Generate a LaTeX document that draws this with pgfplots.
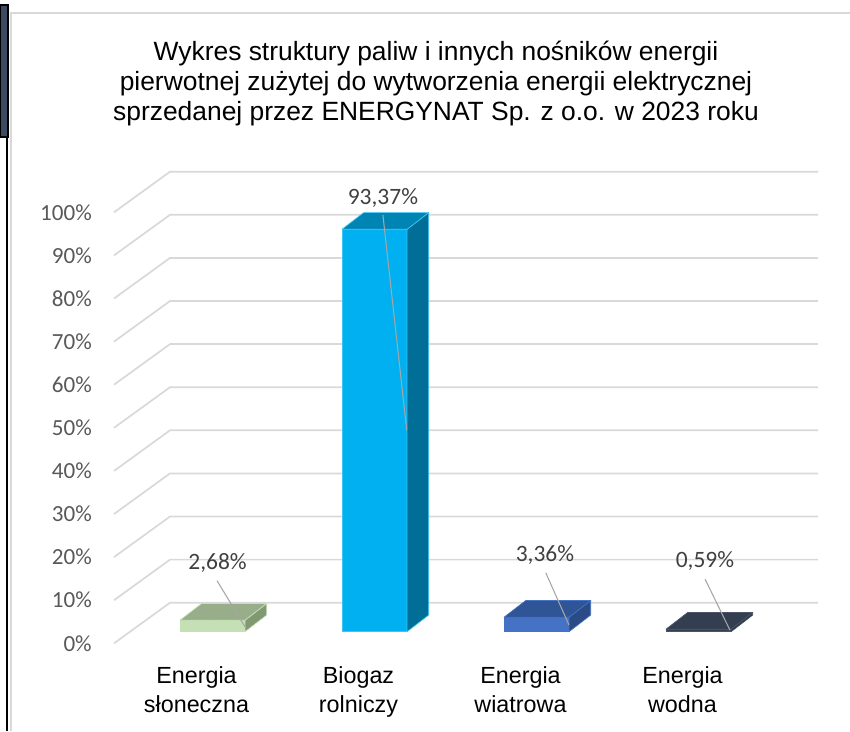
\documentclass[border=0pt]{standalone}
\usepackage{fontspec}
\setmainfont{Liberation Sans}
\newfontfamily\carlito{Carlito}
\usepackage{pgfplots}
\usepackage{pgfplotstable}
\pgfplotsset{compat=1.18}

\definecolor{f0}{HTML}{C5E0B4}\definecolor{t0}{HTML}{98AE8A}\definecolor{s0}{HTML}{819972}\definecolor{e0}{HTML}{C5E0B4}
\definecolor{f1}{HTML}{00B0F0}\definecolor{t1}{HTML}{0084B4}\definecolor{s1}{HTML}{006E96}\definecolor{e1}{HTML}{3CC6F7}
\definecolor{f2}{HTML}{4472C4}\definecolor{t2}{HTML}{2F5597}\definecolor{s2}{HTML}{2A4B85}\definecolor{e2}{HTML}{4472C4}
\definecolor{f3}{HTML}{333F50}\definecolor{t3}{HTML}{333F50}\definecolor{s3}{HTML}{2B3545}\definecolor{e3}{HTML}{4A5568}
\definecolor{gridc}{HTML}{D9D9D9}
\definecolor{tickgray}{HTML}{595959}
\definecolor{labgray}{HTML}{404040}
\definecolor{leadc}{HTML}{A6A6A6}
\definecolor{navy}{HTML}{3E4C63}

\tikzset{dlab/.style={font=\carlito\fontsize{17.6}{20}\selectfont, text=labgray, inner sep=0pt, anchor=center}}

\pgfplotstableread{
x v c
0 2.68 0
1 93.37 1
2 3.36 2
3 0.59 3
}\bardata

\begin{document}
\begin{tikzpicture}
\begin{axis}[
  set layers=standard,
  x=121.5pt, y=3.2325pt,
  xmin=-1.3117, xmax=3.9352, ymin=-23.04, ymax=146.57,
  axis line style={draw=none},
  major tick length=0pt,
  tick style={draw=none},
  clip=false,
  xtick={0,1,2,3},
  xticklabels={{Energia\\słoneczna},{Biogaz\\rolniczy},{Energia\\wiatrowa},{Energia\\wodna}},
  xticklabel style={align=center, font=\fontsize{17.5}{21.75}\selectfont, text=black, inner sep=0pt, anchor=north, xshift=-12pt, yshift=48.3pt},
  ytick={-2.69,7.31,17.31,27.31,37.31,47.31,57.31,67.31,77.31,87.31,97.31},
  yticklabels={0\%,10\%,20\%,30\%,40\%,50\%,60\%,70\%,80\%,90\%,100\%},
  yticklabel style={font=\carlito\fontsize{17.3}{20}\selectfont, text=tickgray, inner sep=0pt, anchor=east, xshift=69pt},
  grid3d/.style={draw=gridc, line width=1.3pt, line join=round, forget plot},
  leader/.style={draw=leadc, line width=0.8pt, forget plot, on layer=axis foreground},
]
% chart frame and left strip
\draw[gridc, line width=1.5pt] (axis cs:-1.2438,-23.04) -- (axis cs:-1.2438,143.55) -- (axis cs:3.9352,143.55);
\fill[navy, draw=black, line width=0.8pt] (axis cs:-1.3117,114.78) rectangle (axis cs:-1.2623,145.41);
\draw[black, line width=1.5pt] (axis cs:-1.2685,114.78) -- (axis cs:-1.2685,-23.04);

% 3D gridlines (front-left diagonal, back wall horizontal)
\addplot[grid3d] coordinates {(-0.608,-2.69) (-0.2623,6.73) (3.7377,6.73)};
\addplot[grid3d] coordinates {(-0.608,7.31) (-0.2623,16.73) (3.7377,16.73)};
\addplot[grid3d] coordinates {(-0.608,17.31) (-0.2623,26.73) (3.7377,26.73)};
\addplot[grid3d] coordinates {(-0.608,27.31) (-0.2623,36.73) (3.7377,36.73)};
\addplot[grid3d] coordinates {(-0.608,37.31) (-0.2623,46.73) (3.7377,46.73)};
\addplot[grid3d] coordinates {(-0.608,47.31) (-0.2623,56.73) (3.7377,56.73)};
\addplot[grid3d] coordinates {(-0.608,57.31) (-0.2623,66.73) (3.7377,66.73)};
\addplot[grid3d] coordinates {(-0.608,67.31) (-0.2623,76.73) (3.7377,76.73)};
\addplot[grid3d] coordinates {(-0.608,77.31) (-0.2623,86.73) (3.7377,86.73)};
\addplot[grid3d] coordinates {(-0.608,87.31) (-0.2623,96.73) (3.7377,96.73)};
\addplot[grid3d] coordinates {(-0.608,97.31) (-0.2623,106.73) (3.7377,106.73)};

% 3D bars
\addplot[only marks, scatter, mark=*, mark size=0pt, mark options={draw=none,fill=none},
  point meta=explicit symbolic,
  visualization depends on={\thisrow{v}\as\val},
  scatter/@pre marker code/.code={%
    \edef\cidx{\pgfplotspointmeta}%
    \pgfmathsetmacro\hh{\val*3.2325}%
    \pgfmathsetmacro\hb{12.525-\hh}%
    \filldraw[fill=f\cidx, draw=e\cidx, line width=0.5pt, line join=round] (-24.375pt,0pt) rectangle (24.375pt,-\hh pt);
    \filldraw[fill=s\cidx, draw=e\cidx, line width=0.5pt, line join=round] (24.375pt,0pt) -- (40.65pt,12.525pt) -- (40.65pt,\hb pt) -- (24.375pt,-\hh pt) -- cycle;
    \filldraw[fill=t\cidx, draw=e\cidx, line width=0.5pt, line join=round] (-24.375pt,0pt) -- (24.375pt,0pt) -- (40.65pt,12.525pt) -- (-8.1pt,12.525pt) -- cycle;
  },
  scatter/@post marker code/.code={},
  forget plot
] table[x=x, y=v, meta=c] {\bardata};

% leader lines
\addplot[leader] coordinates {(0.028,11.83) (0.2006,1.16)};
\addplot[leader] coordinates {(1.052,96.68) (1.199,46.77)};
\addplot[leader] coordinates {(2.057,13.69) (2.2006,1.55)};
\addplot[leader] coordinates {(3.040,12.23) (3.194,0.39)};

% data labels
\node[dlab] at (axis cs:0.031,15.94) {2,68\%};
\node[dlab] at (axis cs:1.052,100.6) {93,37\%};
\node[dlab] at (axis cs:2.052,17.80) {3,36\%};
\node[dlab] at (axis cs:3.040,16.40) {0,59\%};

% title
\node[anchor=north, align=center, inner sep=0pt, font=\fontsize{19.8}{22.6}\selectfont] at (axis cs:1.3796,137.17)
  {Wykres struktury paliw i innych nośników energii\\pierwotnej zużytej do wytworzenia energii elektrycznej\\sprzedanej przez ENERGYNAT Sp. z o.o. w 2023 roku};
\end{axis}
\pgfresetboundingbox
\path[use as bounding box] (current axis.south west) rectangle (current axis.north east);
\end{tikzpicture}
\end{document}
